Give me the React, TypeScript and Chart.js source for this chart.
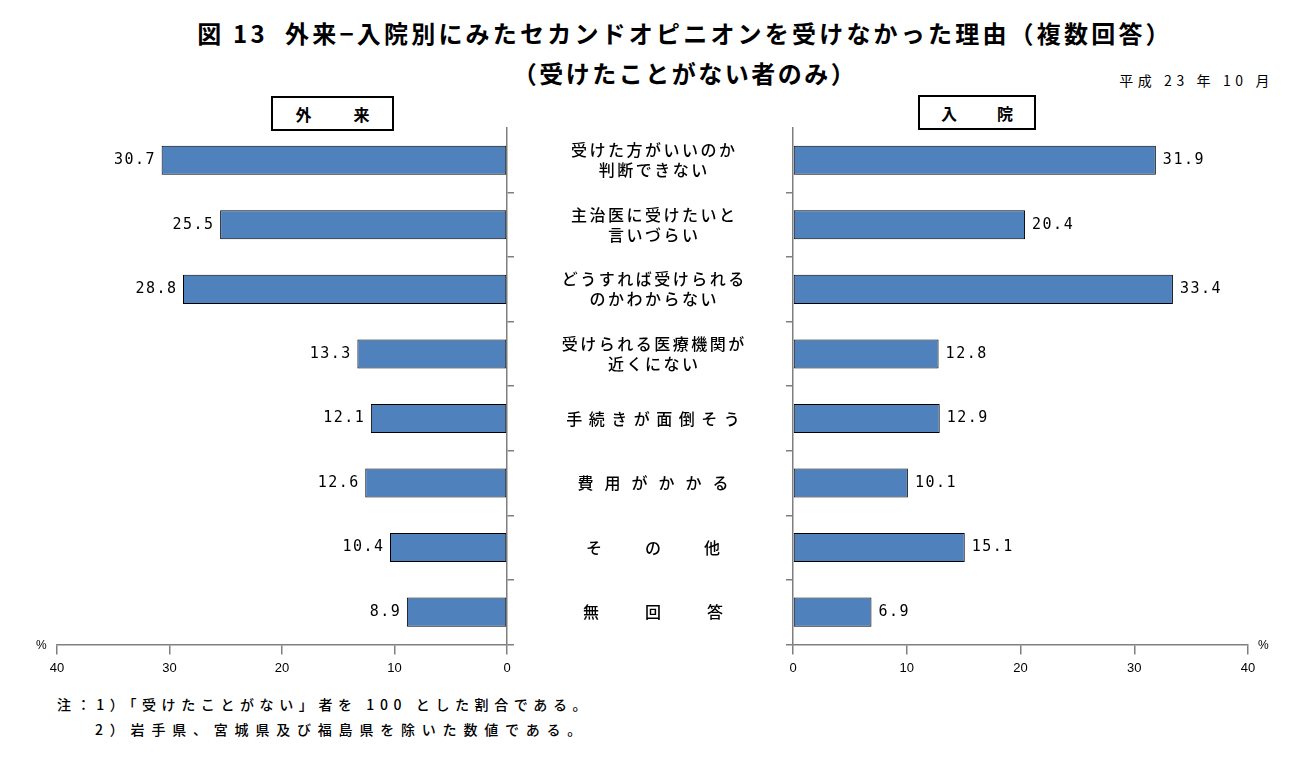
import React, { useEffect, useRef } from "react";
import { Chart, registerables } from "chart.js";

Chart.register(...registerables);

// ---- data ----
const categories: string[][] = [
  ["受けた方がいいのか", "判断できない"],
  ["主治医に受けたいと", "言いづらい"],
  ["どうすれば受けられる", "のかわからない"],
  ["受けられる医療機関が", "近くにない"],
  ["手続きが面倒そう"],
  ["費用がかかる"],
  ["その他"],
  ["無回答"],
];
const outpatient = [30.7, 25.5, 28.8, 13.3, 12.1, 12.6, 10.4, 8.9];
const inpatient = [31.9, 20.4, 33.4, 12.8, 12.9, 10.1, 15.1, 6.9];
const xTicks = [0, 10, 20, 30, 40];
const panelTitles = ["外　来", "入　院"];
const titleLine1 = "図 13  外来−入院別にみたセカンドオピニオンを受けなかった理由（複数回答）";
const titleLine2 = "（受けたことがない者のみ）";
const dateText = "平成 23 年 10 月";
const notes = [
  "注：1）「受けたことがない」者を 100 とした割合である。",
  "2）岩手県、宮城県及び福島県を除いた数値である。",
];

// ---- styles ----
const labelSpacing = [2.5, 2.5, 2.5, 2.5, 6.5, 11, 43, 46];
const BAR_COLOR = "#4F81BD";
const AXIS_COLOR = "#7f7f7f";
const JP = '"Noto Sans CJK JP", "Noto Sans", sans-serif';

function drawSpaced(
  ctx: CanvasRenderingContext2D,
  text: string,
  x: number,
  y: number,
  spacing: number,
  align: "left" | "right" | "center"
) {
  const chars = Array.from(text);
  const widths = chars.map((c) => ctx.measureText(c).width);
  const total = widths.reduce((a, b) => a + b, 0) + spacing * (chars.length - 1);
  let cur = align === "center" ? x - total / 2 : align === "right" ? x - total : x;
  ctx.textAlign = "left";
  chars.forEach((c, i) => {
    ctx.fillText(c, cur, y);
    cur += widths[i] + spacing;
  });
}

const valueLabelPlugin = {
  id: "valueLabels",
  afterDatasetsDraw(chart: any) {
    const ctx = chart.ctx as CanvasRenderingContext2D;
    const meta = chart.getDatasetMeta(0);
    const data = chart.data.datasets[0].data as number[];
    const reverse = chart.options.scales.x.reverse;
    ctx.save();
    ctx.fillStyle = "#000";
    ctx.font = '15px "DejaVu Sans Mono", monospace';
    ctx.textBaseline = "middle";
    meta.data.forEach((bar: any, i: number) => {
      const txt = data[i].toFixed(1);
      if (reverse) drawSpaced(ctx, txt, bar.x - 7, bar.y, 1.5, "right");
      else drawSpaced(ctx, txt, bar.x + 7, bar.y, 1.5, "left");
    });
    ctx.restore();
  },
};

const centerLabelPlugin = {
  id: "centerLabels",
  afterDraw(chart: any) {
    const ctx = chart.ctx as CanvasRenderingContext2D;
    const y = chart.scales.y;
    ctx.save();
    ctx.fillStyle = "#000";
    ctx.font = `500 16px ${JP}`;
    ctx.textBaseline = "middle";
    categories.forEach((lines, i) => {
      const cy = y.getPixelForValue(i);
      const lh = 20;
      lines.forEach((ln, j) => {
        const ly = cy + (j - (lines.length - 1) / 2) * lh;
        drawSpaced(ctx, ln, 653, ly, labelSpacing[i], "center");
      });
    });
    ctx.restore();
  },
};

function makeConfig(values: number[], side: "left" | "right"): any {
  const isLeft = side === "left";
  return {
    type: "bar",
    data: {
      labels: categories.map((c) => c.join("")),
      datasets: [
        {
          data: values,
          backgroundColor: BAR_COLOR,
          borderColor: "#000",
          borderWidth: 1,
          borderSkipped: false,
          barPercentage: 0.45,
          categoryPercentage: 1,
        },
      ],
    },
    options: {
      indexAxis: "y",
      animation: false,
      responsive: false,
      maintainAspectRatio: false,
      layout: isLeft
        ? { padding: { left: 57, right: 246, top: 28, bottom: 8 } }
        : { padding: { left: 26, right: 54, top: 28, bottom: 8 } },
      plugins: { legend: { display: false }, tooltip: { enabled: false } },
      scales: {
        x: {
          min: 0,
          max: 40,
          reverse: isLeft,
          afterBuildTicks: (s: any) => {
            s.ticks = xTicks.map((v) => ({ value: v }));
          },
          ticks: {
            color: "#000",
            font: { family: '"Liberation Sans", Arial, sans-serif', size: 13 },
            padding: 6,
            maxRotation: 0,
          },
          grid: { drawOnChartArea: false, tickLength: 10, color: AXIS_COLOR, lineWidth: 1.5 },
          border: { color: AXIS_COLOR, width: 1.5 },
        },
        y: {
          position: isLeft ? "right" : "left",
          ticks: { display: false },
          grid: {
            offset: true,
            drawOnChartArea: false,
            tickLength: 7,
            lineWidth: 1.5,
            color: (c: any) => (c.index === 0 ? "rgba(0,0,0,0)" : AXIS_COLOR),
          },
          border: { color: AXIS_COLOR, width: 1.5 },
        },
      },
    },
    plugins: isLeft ? [valueLabelPlugin, centerLabelPlugin] : [valueLabelPlugin],
  };
}

function BarPanel({ values, side, left, width }: { values: number[]; side: "left" | "right"; left: number; width: number }) {
  const ref = useRef<HTMLCanvasElement>(null);
  useEffect(() => {
    if (!ref.current) return;
    const chart = new Chart(ref.current, makeConfig(values, side));
    return () => chart.destroy();
  }, [values, side]);
  return (
    <canvas
      ref={ref}
      width={width}
      height={590}
      style={{ position: "absolute", left, top: 100, width, height: 590 }}
    />
  );
}

const boxStyle = (left: number, top: number, width: number, spacing: number): React.CSSProperties => ({
  position: "absolute",
  left,
  top,
  width,
  height: 31,
  border: "2px solid #000",
  display: "flex",
  alignItems: "center",
  justifyContent: "center",
  fontFamily: JP,
  fontWeight: 700,
  fontSize: 16,
  letterSpacing: spacing,
  paddingLeft: spacing,
  boxSizing: "content-box",
  background: "#fff",
});

export default function App() {
  return (
    <div
      style={{
        position: "fixed",
        left: 0,
        top: 0,
        width: 1302,
        height: 760,
        background: "#fff",
        overflow: "hidden",
        fontFamily: JP,
        color: "#000",
      }}
    >
      <div
        style={{
          position: "absolute",
          left: 85,
          width: 1200,
          top: 15,
          textAlign: "center",
          fontSize: 24,
          fontWeight: 700,
          letterSpacing: 3.2,
          lineHeight: "36px",
          whiteSpace: "pre",
        }}
      >
        {titleLine1}
      </div>
      <div
        style={{
          position: "absolute",
          left: 85,
          width: 1200,
          top: 55,
          textAlign: "center",
          fontSize: 24,
          fontWeight: 700,
          letterSpacing: 2.5,
          lineHeight: "36px",
        }}
      >
        {titleLine2}
      </div>
      <div
        style={{
          position: "absolute",
          right: 28,
          top: 68,
          fontSize: 14,
          letterSpacing: 4.6,
          lineHeight: "24px",
          whiteSpace: "pre",
        }}
      >
        {dateText}
      </div>
      <BarPanel values={outpatient} side="left" left={0} width={760} />
      <BarPanel values={inpatient} side="right" left={760} width={542} />
      <div style={boxStyle(271, 96, 119 - 13, 13)}>{panelTitles[0]}</div>
      <div style={boxStyle(918, 95, 114 - 12, 12)}>{panelTitles[1]}</div>
      <div style={{ position: "absolute", left: 36, top: 638, fontSize: 12, fontFamily: '"Liberation Sans", Arial' }}>%</div>
      <div style={{ position: "absolute", left: 1258, top: 638, fontSize: 12, fontFamily: '"Liberation Sans", Arial' }}>%</div>
      <div
        style={{
          position: "absolute",
          left: 57,
          top: 692,
          fontSize: 14,
          fontWeight: 500,
          letterSpacing: 5.6,
          lineHeight: "24px",
          whiteSpace: "pre",
        }}
      >
        {notes[0]}
      </div>
      <div
        style={{
          position: "absolute",
          left: 95,
          top: 717,
          fontSize: 14,
          fontWeight: 500,
          letterSpacing: 6.8,
          lineHeight: "24px",
          whiteSpace: "pre",
        }}
      >
        {notes[1]}
      </div>
    </div>
  );
}
